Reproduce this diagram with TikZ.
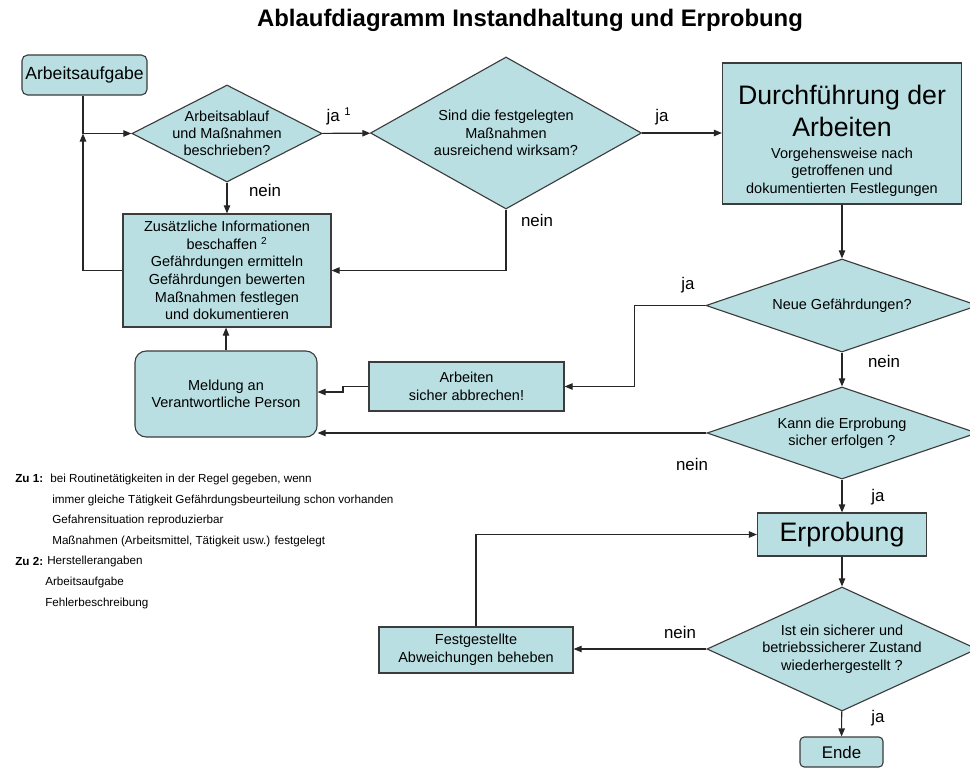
\documentclass[tikz,border=0pt]{standalone}
\usepackage{fontspec}
\setmainfont{Liberation Sans}
\usetikzlibrary{shapes.geometric,arrows.meta,calc}
\definecolor{boxfill}{RGB}{185,223,226}
\definecolor{edge}{RGB}{60,60,60}
\newcommand{\fsz}[2]{\fontsize{#1}{#2}\selectfont}

\tikzset{
  box/.style={draw=edge, fill=boxfill, line width=0.8pt, align=center, inner sep=0pt, font=\fsz{10.3}{12.5}},
  roundbox/.style={box, rounded corners=#1},
  decision/.style={diamond, draw=edge, fill=boxfill, line width=0.8pt, align=center, inner sep=-3pt, font=\fsz{10.3}{12.3}},
  lbl/.style={font=\fsz{12}{14}, inner sep=0pt},
  note/.style={anchor=west, inner sep=0pt, font=\fsz{8.3}{10}},
  conn/.style={->, draw=black!85, line width=0.8pt},
}

\begin{document}
\begin{tikzpicture}[x=0.025cm, y=-0.025cm, >={Triangle[length=2mm,width=1.6mm]}]
\useasboundingbox (0,0) rectangle (970,769);
\node[font=\bfseries\fsz{17}{20}] (title) at (530,20) {Ablaufdiagramm Instandhaltung und Erprobung};

% upper part: planning loop
\node[roundbox=4pt, font=\fsz{12.5}{15}, minimum width=3.125cm, minimum height=1cm] (aufgabe) at (84.5,75) {Arbeitsaufgabe};
\node[decision, aspect=1.96, minimum width=4.75cm, minimum height=2.425cm] (ablauf) at (227,133.5) {Arbeitsablauf\\und Maßnahmen\\beschrieben?};
\node[decision, aspect=1.78, minimum width=6.775cm, minimum height=3.8cm] (wirksam) at (506,133) {Sind die festgelegten\\Maßnahmen\\ausreichend wirksam?};
\node[box, minimum width=5.975cm, minimum height=3.525cm] (durchf) at (842,133.5) {\fsz{19}{22}\rule{0pt}{24pt}Durchführung der\\[4pt]\fsz{19}{22}Arbeiten\\[3pt]\fsz{10.3}{12.5}Vorgehensweise nach\\\fsz{10.3}{12.5}getroffenen und\\\fsz{10.3}{12.5}dokumentierten Festlegungen};
\node[box, minimum width=5.2cm, minimum height=2.825cm] (info) at (227,270.5) {Zusätzliche Informationen\\beschaffen \textsuperscript{2}\\Gefährdungen ermitteln\\Gefährdungen bewerten\\Maßnahmen festlegen\\und dokumentieren};
\coordinate (merge) at (83,133.5);

% middle part: hazards
\node[decision, aspect=2.9, minimum width=6.8cm, minimum height=2.325cm] (gefahr) at (842,305.5) {Neue Gefährdungen?};
\node[box, minimum width=4.875cm, minimum height=1.225cm] (abbruch) at (466.5,386.5) {Arbeiten\\sicher abbrechen!};
\node[roundbox=8pt, minimum width=4.55cm, minimum height=2.15cm] (meldung) at (226,394) {Meldung an\\Verantwortliche Person};
\coordinate (jog) at (343,392);
\node[decision, aspect=2.9, minimum width=6.75cm, minimum height=2.3cm] (sicher) at (842,433) {Kann die Erprobung\\sicher erfolgen ?};

% lower part: test run
\node[box, font=\fsz{19}{22}, minimum width=4.225cm, minimum height=1.075cm] (erprob) at (842,534.5) {Erprobung};
\node[decision, aspect=2.2, minimum width=6.75cm, minimum height=3.1cm] (zustand) at (842,649) {Ist ein sicherer und\\betriebssicherer Zustand\\wiederhergestellt ?};
\node[box, minimum width=4.85cm, minimum height=1.15cm] (beheben) at (476,650) {Festgestellte\\Abweichungen beheben};
\node[roundbox=3pt, font=\fsz{12}{14}, minimum width=2.075cm, minimum height=0.75cm] (ende) at (841.5,752) {Ende};

% connectors
\draw[conn] (aufgabe.south -| merge) -- (merge) -- (ablauf);
\draw[conn] (info.west) -| (merge);
\draw[conn] (ablauf) -- (wirksam);
\draw[conn] (ablauf) -- (info);
\draw[conn] (wirksam.east) -- (wirksam.east -| durchf.west);
\draw[conn] (wirksam.south) |- (info.east);
\draw[conn] (durchf) -- (gefahr);
\draw[conn] (gefahr.west) -- ++(-71,0) |- (abbruch.east);
\draw[conn] (abbruch.west) -| (jog) -- (jog -| meldung.east);
\draw[conn] (meldung.north) -- (meldung.north |- info.south);
\draw[conn] (gefahr) -- (sicher);
\draw[conn] (sicher.west) -- (sicher.west -| meldung.east);
\draw[conn] (sicher) -- (erprob);
\draw[conn] (erprob) -- (zustand);
\draw[conn] (zustand.west) -- (zustand.west -| beheben.east);
\draw[conn] (beheben.north) |- (erprob.west);
\draw[conn] (zustand) -- (ende);

% branch labels
\node[lbl] (jaA) at (339,116) {ja \textsuperscript{1}};
\node[lbl] (jaB) at (662,117) {ja};
\node[lbl] (neinA) at (265,190) {nein};
\node[lbl] (neinB) at (537,220) {nein};
\node[lbl] (jaC) at (688,285) {ja};
\node[lbl] (neinC) at (884,361) {nein};
\node[lbl] (neinD) at (692,464) {nein};
\node[lbl] (jaD) at (878,497) {ja};
\node[lbl] (neinE) at (680,632) {nein};
\node[lbl] (jaE) at (878,718) {ja};

% footnotes
\node[note] (zu1) at (15,479) {\bfseries Zu 1:};
\node[note] (zu1a) at (50,479) {bei Routinetätigkeiten in der Regel gegeben, wenn};
\node[note] (zu1b) at (52,500) {immer gleiche Tätigkeit Gefährdungsbeurteilung schon vorhanden};
\node[note] (zu1c) at (52,520) {Gefahrensituation reproduzierbar};
\node[note] (zu1d) at (52,541) {Maßnahmen (Arbeitsmittel, Tätigkeit usw.) festgelegt};
\node[note] (zu2) at (15,561) {\bfseries Zu 2:};
\node[note] (zu2a) at (47,561) {Herstellerangaben};
\node[note] (zu2b) at (45,582) {Arbeitsaufgabe};
\node[note] (zu2c) at (45,603) {Fehlerbeschreibung};
\end{tikzpicture}
\end{document}
